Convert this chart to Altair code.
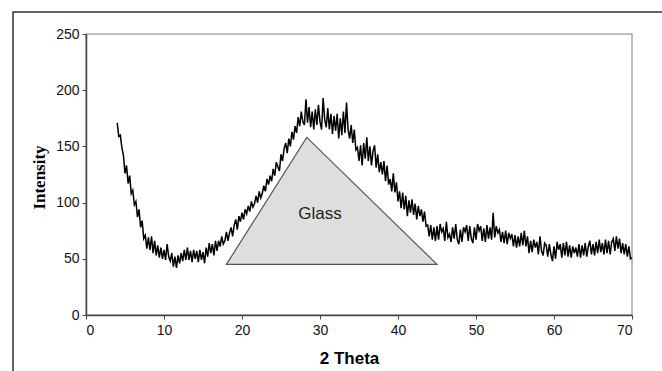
import altair as alt
import pandas as pd
import numpy as np

# Scan: 2-theta from 4 to 70 in steps of 0.2 degrees
theta_start = 4.0
theta_step = 0.2
intensity = [
    171, 159, 160, 149, 142,
    126, 133, 117, 124, 108,
    111, 98, 101, 87, 94,
    78, 84, 68, 71, 59,
    69, 58, 70, 55, 66,
    53, 62, 51, 60, 50,
    58, 49, 63, 52, 48,
    55, 43, 52, 42, 53,
    46, 55, 48, 58, 49,
    60, 49, 57, 47, 58,
    50, 57, 47, 58, 49,
    56, 46, 60, 52, 64,
    55, 63, 53, 66, 57,
    66, 61, 70, 63, 66,
    74, 66, 73, 78, 70,
    80, 85, 76, 88, 83,
    91, 85, 94, 90, 97,
    92, 101, 96, 99, 106,
    100, 110, 104, 108, 115,
    110, 121, 116, 124, 119,
    130, 124, 136, 132, 128,
    143, 137, 148, 153, 144,
    157, 150, 163, 156, 168,
    162, 176, 168, 181, 172,
    169, 192, 171, 185, 167,
    181, 165, 183, 169, 187,
    172, 165, 193, 174, 167,
    184, 165, 179, 161, 177,
    164, 179, 157, 175, 160,
    181, 162, 189, 165, 157,
    169, 153, 165, 147, 149,
    137, 151, 133, 153, 139,
    158, 137, 150, 133, 146,
    151, 131, 143, 127, 136,
    125, 137, 119, 133, 116,
    121, 110, 126, 109, 118,
    101, 110, 95, 109, 94,
    106, 88, 102, 91, 103,
    89, 99, 85, 97, 88,
    94, 83, 92, 79, 80,
    70, 80, 67, 78, 66,
    79, 67, 81, 74, 77,
    66, 83, 69, 72, 65,
    78, 68, 81, 67, 63,
    76, 65, 78, 74, 80,
    66, 79, 68, 64, 78,
    67, 81, 75, 79, 66,
    77, 65, 80, 68, 78,
    67, 91, 69, 79, 73,
    76, 65, 74, 64, 75,
    63, 73, 68, 72, 61,
    71, 60, 70, 61, 73,
    62, 75, 61, 70, 55,
    66, 56, 67, 60, 65,
    54, 70, 57, 53, 64,
    62, 52, 63, 54, 48,
    61, 50, 65, 58, 63,
    51, 64, 53, 65, 52,
    62, 51, 61, 55, 60,
    52, 63, 51, 62, 53,
    64, 52, 61, 66, 54,
    63, 53, 65, 55, 67,
    56, 64, 54, 67, 55,
    66, 54, 65, 68, 57,
    70, 59, 68, 55, 64,
    54, 63, 52, 61, 50,
    51,
]
two_theta = np.round(theta_start + theta_step * np.arange(len(intensity)), 2)

# "Glass" hump triangle
tri_x = [18.0, 28.3, 45.0]
tri_y = [45, 158, 45]
tri_base = [45, 45, 45]

label_text = ["Glass"]
label_x = [30.0]
label_y = [90]

x_ticks = [0, 10, 20, 30, 40, 50, 60, 70]
y_ticks = [0, 50, 100, 150, 200, 250]

scan = pd.DataFrame({"theta": two_theta, "intensity": intensity})
tri = pd.DataFrame({"theta": tri_x, "top": tri_y, "base": tri_base})
lab = pd.DataFrame({"theta": label_x, "y": label_y, "text": label_text})

xscale = alt.Scale(domain=[0, 70], nice=False)
yscale = alt.Scale(domain=[0, 250], nice=False)

xaxis = alt.Axis(
    values=x_ticks, title="2 Theta",
    titleX=263, titleY=43, titleBaseline="middle", titleAnchor="middle",
    titleFont="Liberation Sans", titleFontSize=17, titleFontWeight="bold",
)
yaxis = alt.Axis(
    values=y_ticks, title="Intensity",
    titleX=-47, titleY=143, titleAngle=270, titleBaseline="middle", titleAnchor="middle",
    titleFont="Liberation Serif", titleFontSize=17, titleFontWeight="bold",
)

frame = alt.Chart(pd.DataFrame({"a": [0]})).mark_rect(
    fill=None, fillOpacity=0, stroke="#333", strokeWidth=1.5
).encode(
    x=alt.value(-73), x2=alt.value(700), y=alt.value(-22), y2=alt.value(420)
)

triangle = alt.Chart(tri).mark_area(
    fill="#dedede", stroke="#555", strokeWidth=1.2, interpolate="linear"
).encode(
    x=alt.X("theta:Q", scale=xscale, axis=xaxis),
    y=alt.Y("top:Q", scale=yscale, axis=yaxis),
    y2="base:Q",
)

line = alt.Chart(scan).mark_line(color="#000", strokeWidth=1.5).encode(
    x=alt.X("theta:Q", scale=xscale, axis=xaxis),
    y=alt.Y("intensity:Q", scale=yscale, axis=yaxis),
)

text = alt.Chart(lab).mark_text(
    font="Liberation Sans", fontSize=17, color="#222", align="center", baseline="middle"
).encode(
    x=alt.X("theta:Q", scale=xscale, axis=xaxis),
    y=alt.Y("y:Q", scale=yscale, axis=yaxis),
    text="text:N",
)

chart = alt.layer(frame, triangle, line, text).properties(
    width=546, height=281,
    autosize=alt.AutoSizeParams(type="none"),
    padding={"left": 86, "top": 34, "right": 30, "bottom": 56},
    background="white",
).configure_view(
    stroke="#a8a8a8", strokeWidth=1.5
).configure_axis(
    grid=False,
    labelFont="Liberation Sans", labelFontSize=14, labelColor="#111",
    tickSize=4, tickColor="#444", domainColor="#444", domainWidth=1.5, tickWidth=1,
    titleColor="#000",
).configure_axisX(labelPadding=4).configure_axisY(labelPadding=3)

chart.save("out.html", embed_options={"renderer": "svg", "actions": False})
